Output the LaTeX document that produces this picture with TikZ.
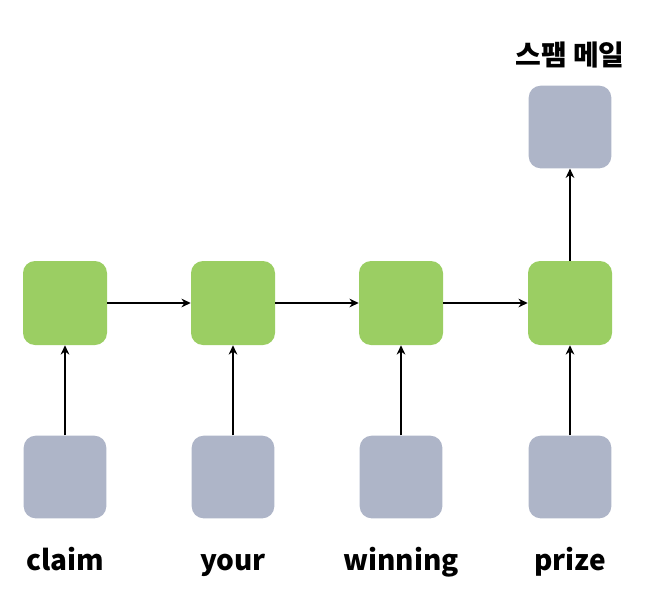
\documentclass[tikz,border=0pt]{standalone}
\usepackage{fontspec}
\newfontfamily\kofont{Noto Sans CJK KR}
\usetikzlibrary{arrows.meta}
\definecolor{cellgreen}{RGB}{155,206,99}
\definecolor{inputgray}{RGB}{174,181,200}

\begin{document}
\begin{tikzpicture}[x=0.75pt, y=-0.75pt, every node/.style={font=\kofont\bfseries\fontsize{21}{25}\selectfont},
	inbox/.style={fill=inputgray, rounded corners=9pt, minimum size=62pt, inner sep=0pt},
	cell/.style={fill=cellgreen, rounded corners=9pt, minimum size=63pt, inner sep=0pt},
	lbl/.style={anchor=base, inner sep=0pt},
	conn/.style={line width=1.2pt, -{Stealth[length=7pt, width=6.5pt]}}]
	\useasboundingbox (0,0) rectangle (668,607);
	% unrolled recurrent cells with one input word each
	\foreach \n/\x/\w in {1/65/claim, 2/233/your, 3/401/winning, 4/570/prize} {\node[inbox] (in\n) at (\x,477) {}; \node[cell] (h\n) at (\x,303) {}; \node[lbl] (w\n) at (\x,570) {\w}; \draw[conn] (in\n) -- (h\n);}
	% hidden state passed to the right
	\foreach \a/\b in {1/2, 2/3, 3/4} {\draw[conn] (h\a) -- (h\b);}
	% output of the last step
	\node[inbox] (out) at (570,127) {};
	\node[lbl] (outlbl) at (570,65) {스팸 메일};
	\draw[conn] (h4) -- (out);
\end{tikzpicture}
\end{document}
